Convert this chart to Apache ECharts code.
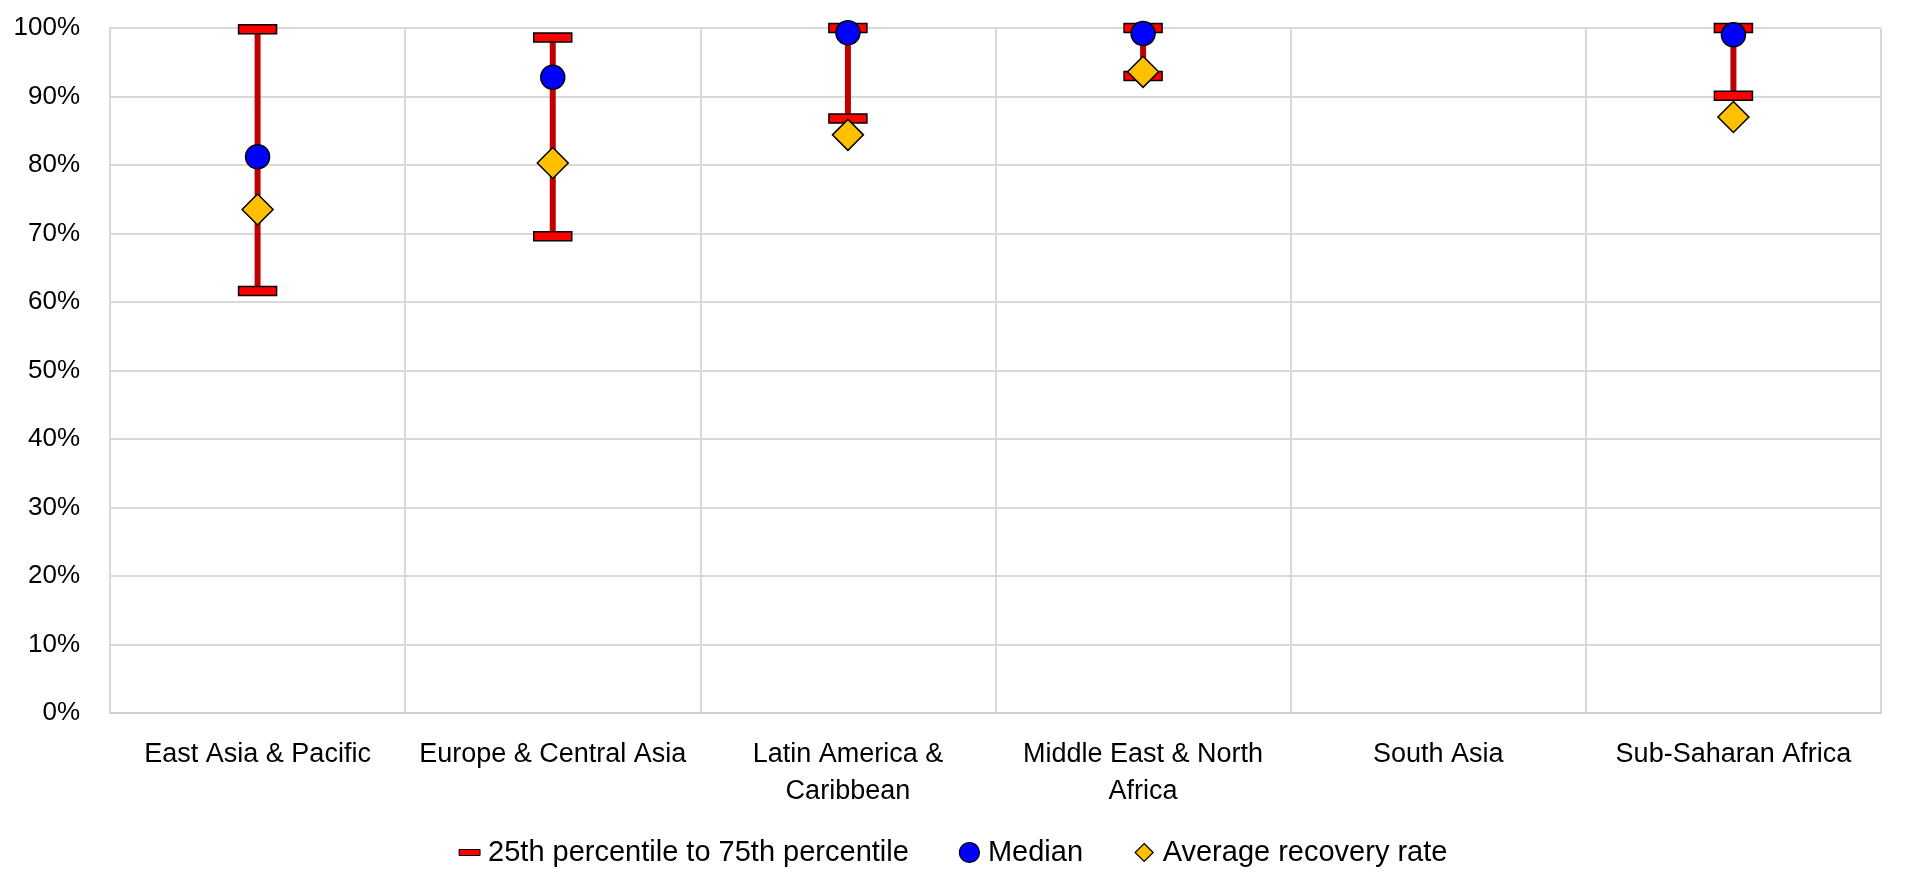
<!DOCTYPE html>
<html>
<head>
<meta charset="utf-8">
<script src="https://cdn.jsdelivr.net/npm/echarts@6/dist/echarts.min.js"></script>
<style>
html,body{margin:0;padding:0;background:#fff;}
#chart{width:1906px;height:887px;}
</style>
</head>
<body>
<div id="chart"></div>
<script>
const categories = ["East Asia & Pacific", "Europe & Central Asia", "Latin America & Caribbean", "Middle East & North Africa", "South Asia", "Sub-Saharan Africa"];
const tickLabels = ["East Asia & Pacific", "Europe & Central Asia", "Latin America &\nCaribbean", "Middle East & North\nAfrica", "South Asia", "Sub-Saharan Africa"];
const p25 = [0.616, 0.696, 0.868, 0.930, null, 0.901];
const p75 = [0.998, 0.986, 1.000, 1.000, null, 1.000];
const median = [0.812, 0.928, 0.993, 0.992, null, 0.990];
const average = [0.735, 0.803, 0.844, 0.936, null, 0.870];

const FONT = "'Liberation Sans', Arial, sans-serif";
const chart = echarts.init(document.getElementById('chart'));

const rangeData = [];
categories.forEach((c, i) => {
  if (p25[i] != null && p75[i] != null) rangeData.push([i, p25[i], p75[i]]);
});

const option = {
  animation: false,
  grid: { left: 110, right: 25, top: 28, bottom: 174, containLabel: false },
  legend: {
    left: 'center',
    top: 833,
    itemGap: 50,
    itemWidth: 21,
    itemHeight: 20,
    textStyle: { fontFamily: FONT, fontSize: 29, color: '#000', padding: [0, 0, 0, 3] },
    data: [
      { name: '25th percentile to 75th percentile', icon: 'path://M0,0 M0,7 L21,7 L21,13 L0,13 Z M21,20',
        itemStyle: { color: '#FF0000', borderColor: '#000', borderWidth: 1 } },
      { name: 'Median', icon: 'circle', itemStyle: { color: '#0000FF', borderColor: '#000', borderWidth: 1.2 } },
      { name: 'Average recovery rate', icon: 'path://M0,0 M10.5,1 L19.5,10 L10.5,19 L1.5,10 Z M21,20',
        itemStyle: { color: '#FFC000', borderColor: '#000', borderWidth: 1.2 } }
    ]
  },
  xAxis: {
    type: 'category',
    data: categories,
    boundaryGap: true,
    axisLine: { show: true, lineStyle: { color: '#d0d0d0', width: 2 } },
    axisTick: { show: false },
    splitLine: { show: true, lineStyle: { color: '#d9d9d9', width: 2 } },
    axisLabel: {
      interval: 0,
      margin: 23,
      fontFamily: FONT, fontSize: 27, color: '#000', lineHeight: 37,
      formatter: (v, i) => tickLabels[i]
    }
  },
  yAxis: {
    type: 'value',
    min: 0, max: 1, interval: 0.1,
    axisLine: { show: true, lineStyle: { color: '#d9d9d9', width: 2 } },
    axisTick: { show: false },
    splitLine: { show: true, lineStyle: { color: '#d9d9d9', width: 2 } },
    axisLabel: {
      margin: 30,
      fontFamily: FONT, fontSize: 26, color: '#000',
      formatter: v => Math.round(v * 100) + '%'
    }
  },
  series: [
    {
      name: '25th percentile to 75th percentile',
      type: 'custom',
      data: rangeData,
      clip: false,
      z: 2,
      itemStyle: { color: '#FF0000' },
      renderItem: function (params, api) {
        const lo = api.coord([api.value(0), api.value(1)]);
        const hi = api.coord([api.value(0), api.value(2)]);
        const cw = 38, ch = 9;
        return {
          type: 'group',
          children: [
            { type: 'line', shape: { x1: lo[0], y1: lo[1], x2: hi[0], y2: hi[1] },
              style: { stroke: '#C00000', lineWidth: 6 } },
            { type: 'rect', shape: { x: hi[0] - cw / 2, y: hi[1] - ch / 2, width: cw, height: ch },
              style: { fill: '#FF0000', stroke: '#000', lineWidth: 1.5 } },
            { type: 'rect', shape: { x: lo[0] - cw / 2, y: lo[1] - ch / 2, width: cw, height: ch },
              style: { fill: '#FF0000', stroke: '#000', lineWidth: 1.5 } }
          ]
        };
      }
    },
    {
      name: 'Median',
      type: 'scatter',
      data: median,
      symbol: 'circle',
      symbolSize: 24,
      z: 3,
      itemStyle: { color: '#0000FF', borderColor: '#000', borderWidth: 1.5, opacity: 1 }
    },
    {
      name: 'Average recovery rate',
      type: 'scatter',
      data: average,
      symbol: 'diamond',
      symbolSize: 31,
      z: 4,
      itemStyle: { color: '#FFC000', borderColor: '#000', borderWidth: 1.5, opacity: 1 }
    }
  ]
};
chart.setOption(option);
</script>
</body>
</html>
